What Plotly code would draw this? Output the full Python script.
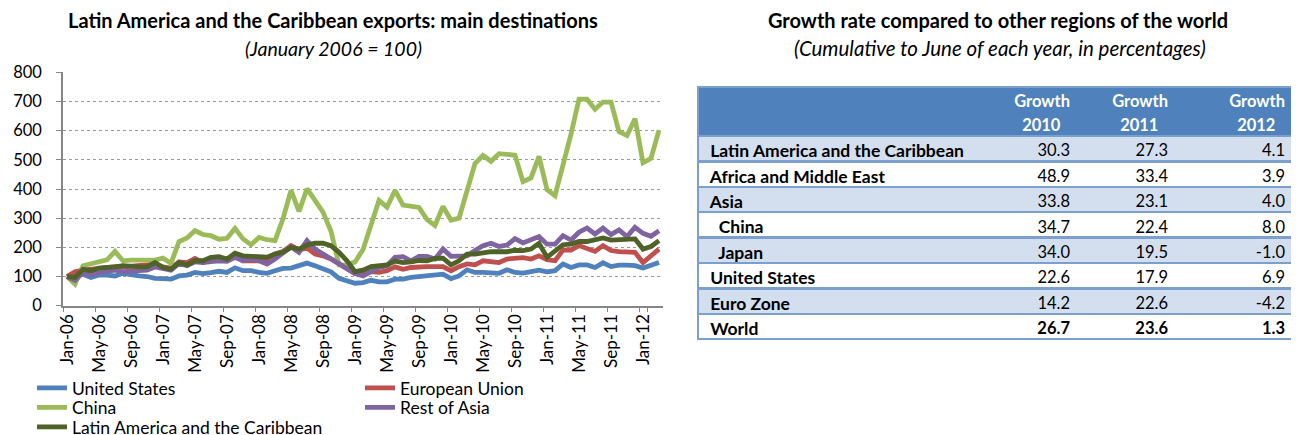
import plotly.graph_objects as go

# ---------------- data ----------------
mon = ["Jan", "Feb", "Mar", "Apr", "May", "Jun", "Jul", "Aug", "Sep", "Oct", "Nov", "Dec"]
months = [f"{m}-{y:02d}" for y in range(6, 13) for m in mon][:75]   # Jan-06 .. Mar-12
tick_labels = months[::4]

united_states = [100, 102, 108, 97, 105, 105, 102, 111, 105, 102, 100, 94, 93, 91, 102, 105, 114, 110, 113, 118,
                 114, 130, 120, 120, 114, 111, 120, 128, 129, 137, 146, 137, 128, 116, 94, 87, 77, 79, 87, 82,
                 82, 91, 91, 97, 100, 105, 106, 108, 93, 102, 123, 114, 114, 114, 111, 123, 114, 112, 116, 122,
                 116, 120, 143, 131, 140, 140, 131, 147, 134, 139, 139, 137, 129, 137, 148]
european_union = [100, 116, 122, 125, 129, 133, 134, 133, 136, 137, 138, 142, 133, 129, 150, 148, 162, 148, 156, 160,
                  154, 171, 154, 154, 154, 160, 177, 186, 206, 191, 198, 177, 171, 160, 143, 123, 110, 108, 117, 114,
                  120, 133, 125, 131, 134, 134, 134, 134, 120, 134, 143, 140, 154, 151, 148, 160, 163, 165, 160, 171,
                  158, 154, 191, 191, 206, 194, 186, 206, 189, 185, 183, 183, 148, 171, 194]
china = [100, 74, 137, 145, 150, 157, 186, 154, 156, 157, 158, 156, 163, 145, 220, 232, 257, 244, 240, 228,
         231, 265, 229, 209, 234, 226, 223, 298, 395, 323, 401, 358, 321, 255, 140, 140, 150, 192, 280, 361,
         338, 395, 345, 339, 337, 295, 275, 340, 293, 300, 393, 487, 515, 495, 521, 519, 516, 425, 438, 512,
         398, 377, 476, 588, 708, 708, 673, 698, 698, 597, 583, 641, 490, 505, 602]
rest_of_asia = [100, 87, 114, 106, 114, 116, 122, 117, 120, 122, 122, 133, 129, 122, 145, 137, 150, 148, 151, 154,
                152, 166, 154, 160, 154, 143, 160, 183, 202, 183, 223, 194, 177, 160, 143, 125, 110, 102, 117, 131,
                137, 166, 168, 154, 169, 169, 160, 194, 169, 171, 171, 189, 206, 214, 203, 208, 230, 215, 225, 237,
                211, 211, 240, 225, 252, 266, 246, 266, 244, 260, 237, 269, 248, 238, 257]
latin_america = [100, 97, 125, 120, 129, 129, 133, 137, 133, 133, 133, 148, 131, 125, 148, 140, 154, 154, 166, 168,
                 160, 180, 171, 169, 169, 166, 177, 183, 200, 194, 208, 214, 214, 206, 183, 154, 117, 122, 134, 137,
                 140, 153, 148, 150, 155, 154, 162, 163, 140, 154, 177, 177, 183, 185, 185, 185, 190, 189, 194, 214,
                 166, 186, 209, 211, 220, 220, 225, 232, 225, 225, 225, 229, 194, 203, 223]

series_names = ["United States", "European Union", "China", "Rest of Asia", "Latin America and the Caribbean"]
series_values = [united_states, european_union, china, rest_of_asia, latin_america]
series_colors = ["#4F81BD", "#C0504D", "#9BBB59", "#8064A2", "#4F6228"]

regions = ["Latin America and the Caribbean", "Africa and Middle East", "Asia", "China", "Japan",
           "United States", "Euro Zone", "World"]
region_indent = [False, False, False, True, True, False, False, False]
growth_2010 = [30.3, 48.9, 33.8, 34.7, 34.0, 22.6, 14.2, 26.7]
growth_2011 = [27.3, 33.4, 23.1, 22.4, 19.5, 17.9, 22.6, 23.6]
growth_2012 = [4.1, 3.9, 4.0, 8.0, -1.0, 6.9, -4.2, 1.3]
header_top = ["", "Growth", "Growth", "Growth"]
header_years = ["", "2010", "2011", "2012"]

# ---------------- geometry helpers (screen px -> paper; page body has an 8px offset) ----------------
FONT = "Lato, 'Open Sans', sans-serif"
SCREEN_W, SCREEN_H = 1299, 435
OFF = 8
W, H = SCREEN_W - OFF, SCREEN_H - OFF


def X(px):
    return (px - OFF) / W


def Y(py):
    return 1 - (py - OFF) / H


NB = "\u00a0"

fig = go.Figure()
legend_ids = ["legend", "legend2", "legend3", "legend4", "legend5"]
legend_pos = [(72, 388), (400, 388), (72, 407.5), (400, 407.5), (72, 427)]   # text-start x, row centre y
for name, vals, col, lg in zip(series_names, series_values, series_colors, legend_ids):
    fig.add_trace(go.Scatter(x=months, y=vals, name=name, mode="lines",
                             line=dict(color=col, width=4.8), legend=lg))

# --- table: background layer (fills and horizontal rules, one column => no vertical rules)
n = len(regions)
row_fill = ["#D3DFEE" if i % 2 == 0 else "#FFFFFF" for i in range(n)]
HEADER_H, ROW_H = 49, 25.4
TOP = 87
BOTTOM = 360
fig.add_trace(go.Table(
    domain=dict(x=[X(698), 1.0], y=[Y(BOTTOM), Y(TOP)]),
    header=dict(values=[""], fill_color="#4F81BD", height=HEADER_H,
                line=dict(color="#7BA0CD", width=2.5)),
    cells=dict(values=[[""] * n], fill_color=[row_fill], height=ROW_H,
               line=dict(color="#7BA0CD", width=2.5)),
))

# --- table: text layers (transparent, drawn over the background)
def lab(r, ind):
    return NB + (NB * 2 if ind else "") + r.replace(" ", NB)

rows_txt = []
for i, r in enumerate(regions):
    rows_txt.append([lab(r, region_indent[i]), f"{growth_2010[i]:.1f}", f"{growth_2011[i]:.1f}",
                     f"{growth_2012[i]:.1f}"])
years_row = [header_years[0]] + [y + "\u2007" for y in header_years[1:]]

COLW = [287, 93, 98, 117]
ALIGN = ["left", "right", "right", "right"]
TFS = [17.5, 16.5, 16.5, 16.5]


def text_table(rows, top_px, first_h, weights, color):
    cols = [list(c) for c in zip(*rows)]
    head = [c[0] for c in cols]
    body = [c[1:] for c in cols]
    fnt = dict(family=FONT, size=TFS, color=color, weight=weights)
    fig.add_trace(go.Table(
        domain=dict(x=[X(698), X(1293)], y=[Y(BOTTOM), Y(top_px)]),
        columnwidth=COLW,
        header=dict(values=head, fill_color="rgba(0,0,0,0)", height=first_h,
                    line=dict(color="rgba(0,0,0,0)", width=0), align=ALIGN, font=fnt),
        cells=dict(values=body, fill_color="rgba(0,0,0,0)", height=ROW_H,
                   line=dict(color="rgba(0,0,0,0)", width=0), align=ALIGN, font=fnt),
    ))


# header block: "Growth" / year
text_table([header_top, years_row], TOP, HEADER_H - ROW_H, ["bold"] * 4, "white")
# body rows (all but World)
text_table(rows_txt[:-1], TOP + HEADER_H, ROW_H, ["bold", "normal", "normal", "normal"], "black")
# World row in bold
text_table([rows_txt[-1]], TOP + HEADER_H + (n - 1) * ROW_H, ROW_H, ["bold"] * 4, "black")

ann = [
    ("<b>Latin America and the Caribbean exports: main destinations</b>", 333, 20, 20),
    ("<i>(January 2006 = 100)</i>", 333, 48, 19.5),
    ("<b>Growth rate compared to other regions of the world</b>", 998, 20, 20),
    ("<i>(Cumulative to June of each year, in percentages)</i>", 1000, 48, 20.5),
]
for txt, px, py, fs in ann:
    fig.add_annotation(xref="paper", yref="paper", showarrow=False, xanchor="center", yanchor="middle",
                       text=txt, x=X(px), y=Y(py),
                       font=dict(family=FONT, color="black", size=fs))

axis_gray = "#868686"
legends = {}
for lg, (tx, ty) in zip(legend_ids, legend_pos):
    legends[lg] = dict(x=X(tx - 40), xanchor="left", y=Y(ty), yanchor="middle", orientation="v",
                       bgcolor="rgba(0,0,0,0)", font=dict(size=17.5), itemwidth=30, borderwidth=0)

fig.update_layout(
    width=W, height=H, margin=dict(l=0, r=0, t=0, b=0, autoexpand=False),
    paper_bgcolor="white", plot_bgcolor="white",
    font=dict(family=FONT, color="black"),
    xaxis=dict(domain=[X(63), X(663)], type="category", range=[-0.5, len(months) - 0.5],
               tickmode="array", tickvals=tick_labels, ticktext=tick_labels, tickangle=-90,
               tickson="boundaries", ticks="outside", ticklen=5, tickcolor=axis_gray,
               showline=True, linecolor=axis_gray, linewidth=1.5, showgrid=False, automargin=False,
               tickfont=dict(size=17, color="black"), fixedrange=True),
    yaxis=dict(domain=[Y(305.7), Y(72.3)], range=[0, 800], dtick=100,
               showgrid=True, gridcolor="#9A9A9A", griddash="dot", gridwidth=1.2,
               showline=True, linecolor=axis_gray, linewidth=1.5, zeroline=False, automargin=False,
               ticks="outside", ticklen=5, tickcolor=axis_gray, ticklabelstandoff=11,
               tickfont=dict(size=16.5, color="black"), fixedrange=True),
    showlegend=True,
    **legends,
)

fig.write_html("out.html")
